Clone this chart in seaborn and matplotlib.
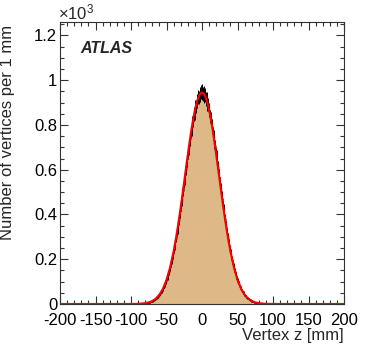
import numpy as np
import pandas as pd
import seaborn as sns
import matplotlib.pyplot as plt
from matplotlib.ticker import MultipleLocator, FuncFormatter

# bin counts, 1 mm bins, centres -79.5 ... 79.5 (zero outside)
counts_neg = [4, 6, 4, 7, 5, 9, 8, 11, 10, 14,
              13, 18, 17, 22, 21, 27, 26, 33, 37, 38,
              46, 47, 56, 58, 67, 70, 81, 84, 97, 101,
              116, 120, 136, 141, 160, 165, 186, 193, 216, 224,
              249, 256, 284, 292, 322, 330, 362, 371, 405, 414,
              450, 460, 496, 506, 544, 553, 591, 601, 639, 648,
              686, 694, 731, 738, 774, 780, 813, 818, 849, 852,
              880, 882, 906, 905, 926, 922, 940, 934, 948, 941]
counts_pos = [952, 938, 945, 930, 933, 915, 918, 894, 891, 869,
              864, 836, 830, 800, 793, 760, 752, 718, 708, 673,
              662, 627, 615, 579, 567, 532, 519, 485, 472, 439,
              427, 394, 383, 352, 341, 312, 302, 275, 265, 240,
              231, 209, 200, 180, 172, 154, 147, 131, 125, 110,
              105, 92, 88, 77, 73, 64, 60, 52, 50, 42,
              40, 34, 33, 27, 26, 22, 21, 17, 17, 13,
              13, 10, 10, 8, 8, 6, 6, 5, 4, 4]
centres = np.arange(-79.5, 80, 1.0)
counts = np.array(counts_neg + counts_pos, dtype=float)

# gaussian fit curve
fit_z = [-200, -100, -90, -80, -75, -70, -65, -60, -55, -50, -45, -40, -37.5, -35, -32.5, -30,
         -27.5, -25, -22.5, -20, -17.5, -15, -12.5, -10, -7.5, -5, -2.5, 0,
         2.5, 5, 7.5, 10, 12.5, 15, 17.5, 20, 22.5, 25, 27.5, 30, 32.5, 35, 37.5, 40,
         45, 50, 55, 60, 65, 70, 75, 80, 90, 100, 200]
fit_y = [0, 0.2, 0.8, 3.7, 7.2, 13.4, 24.1, 41.5, 68.4, 107.9, 162.9, 235.7, 278.9, 326.3, 377.9, 432.6,
         490.2, 549.3, 609.0, 667.8, 724.5, 777.4, 825.2, 866.5, 900.0, 924.7, 939.9, 945,
         939.9, 924.7, 900.0, 866.5, 825.2, 777.4, 724.5, 667.8, 609.0, 549.3, 490.2, 432.6, 377.9, 326.3, 278.9, 235.7,
         162.9, 107.9, 68.4, 41.5, 24.1, 13.4, 7.2, 3.7, 0.8, 0.2, 0]

df = pd.DataFrame({"z": centres, "n": counts})
fit = pd.DataFrame({"z": fit_z, "y": fit_y})

sns.set_style("ticks")
plt.rcParams['font.family'] = ['Liberation Sans', 'DejaVu Sans']
plt.rcParams['mathtext.fontset'] = 'custom'
plt.rcParams['mathtext.rm'] = 'Liberation Sans'
plt.rcParams['mathtext.it'] = 'Liberation Sans:italic'
plt.rcParams['font.size'] = 12

fig = plt.figure(figsize=(3.74, 3.58), dpi=100)
ax = fig.add_axes([60/374, 1 - 304/358, 284/374, 282/358])

sns.histplot(data=df, x="z", weights="n", bins=400, binrange=(-200, 200), element="step",
             fill=True, color="#deb887", alpha=1, edgecolor="black", linewidth=0.7, ax=ax)
nz = df[df.n > 0]
ax.errorbar(nz.z, nz.n, yerr=np.sqrt(nz.n), fmt='none', ecolor='black', elinewidth=0.7)
sns.lineplot(data=fit, x="z", y="y", color="red", linewidth=1.5, ax=ax, sort=False)

ax.set_xlim(-200, 200)
ax.set_ylim(0, 1260)
ax.xaxis.set_major_locator(MultipleLocator(50))
ax.xaxis.set_minor_locator(MultipleLocator(10))
ax.yaxis.set_major_locator(MultipleLocator(200))
ax.yaxis.set_minor_locator(MultipleLocator(50))
ax.xaxis.set_major_formatter(FuncFormatter(lambda v, p: f"{int(v)}"))
ax.yaxis.set_major_formatter(FuncFormatter(lambda v, p: f"{v/1000:g}"))
ax.tick_params(which='both', direction='in', top=True, right=True, colors='#333333',
               labelcolor='black', labelsize=12)
ax.tick_params(which='major', length=6, width=0.8)
ax.tick_params(which='minor', length=3, width=0.8)
ax.tick_params(axis='x', pad=6.5)
ax.tick_params(axis='y', pad=2)
for s in ax.spines.values():
    s.set_color('#333333')
    s.set_linewidth(0.8)

ax.set_xlabel("Vertex z [mm]", loc='right', fontsize=12)
ax.xaxis.set_label_coords(1.0, -0.085)
ax.set_ylabel("Number of vertices per 1 mm", loc='top', fontsize=12)
ax.yaxis.set_label_coords(-0.16, 0.99)

ax.text(0.07, 0.905, "ATLAS", transform=ax.transAxes, fontsize=11.5,
        fontweight='bold', fontstyle='italic', va='center')
fig.text(58/374, 1 - 19/358, r"×10$^3$", fontsize=12, ha='left', va='baseline')

fig.savefig("out.png", dpi=100)
